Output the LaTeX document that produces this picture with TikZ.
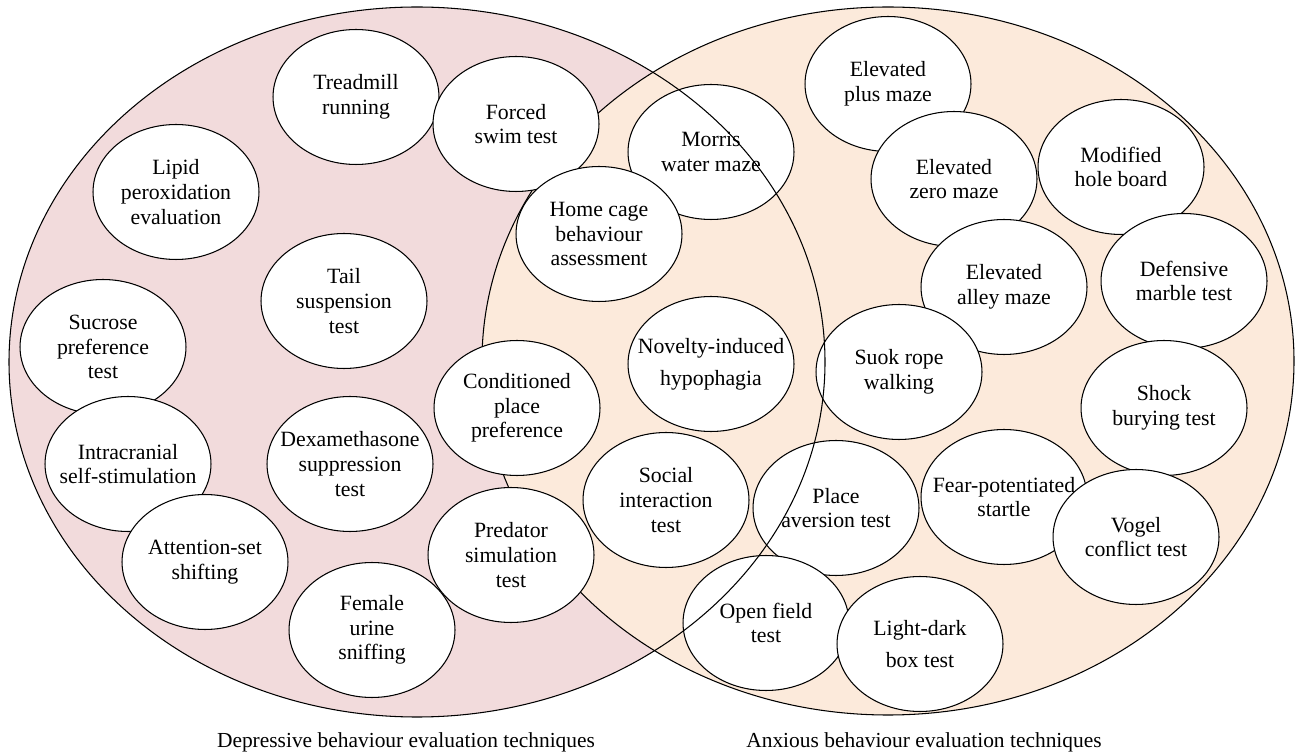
\documentclass[tikz,border=0pt]{standalone}
\usepackage{fontspec}
\setmainfont{Liberation Serif}
\usepackage{tikz}
\usetikzlibrary{shapes}
\definecolor{deprpink}{RGB}{242,219,220}
\definecolor{anxbeige}{RGB}{252,234,219}
\tikzset{
	technique/.style={draw, ellipse, fill=white, line width=0.6pt, minimum width=3.32cm, minimum height=2.7cm, inner xsep=-0.4cm, align=center, font=\fontsize{12.4}{14}\selectfont},
	caption/.style={font=\fontsize{12.2}{14}\selectfont}
}

\begin{document}
\begin{tikzpicture}[x=0.02cm, y=-0.02cm]
			\useasboundingbox (0,0) rectangle (1295,756);
			% the two sets
			\fill[deprpink] (417,362) ellipse [x radius=408, y radius=355];
			\draw[fill=anxbeige, line width=0.6pt] (888,361) ellipse [x radius=406, y radius=354];

			\node[technique] (treadmill) at (356,97) {Treadmill\\running};
			\node[technique] (forcedswim) at (516,124) {Forced\\swim test};
			\node[technique] (morris) at (711,152) {Morris\\water maze};
			\node[technique] (homecage) at (599,234) {Home cage\\behaviour\\assessment};
			\node[technique] (lipid) at (176,192) {Lipid\\peroxidation\\evaluation};
			\node[technique] (tail) at (344,301) {Tail\\suspension\\test};
			\node[technique] (sucrose) at (103,347) {Sucrose\\preference\\test};
			\node[technique] (intracranial) at (128,464) {Intracranial\\self-stimulation};
			\node[technique] (attention) at (205,562) {Attention-set\\shifting};
			\node[technique] (dexa) at (350,464) {Dexamethasone\\suppression\\test};
			\node[technique] (predator) at (511,555) {Predator\\simulation\\test};
			\node[technique] (female) at (372,630) {Female\\urine\\sniffing};
			\node[technique] (conditioned) at (517,408) {Conditioned\\place\\preference};
			\node[technique] (novelty) at (711,364) {Novelty-induced\\[4pt]hypophagia};
			\node[technique] (social) at (666,500) {Social\\interaction\\test};
			\node[technique] (placeav) at (836,508) {Place\\aversion test};
			\node[technique] (openfield) at (766,623) {Open field\\test};
			\node[technique] (lightdark) at (920,644) {Light-dark\\[4pt]box test};
			\node[technique] (plusmaze) at (888,84) {Elevated\\plus maze};
			\node[technique] (zeromaze) at (954,179) {Elevated\\zero maze};
			\node[technique] (alleymaze) at (1004,287) {Elevated\\alley maze};
			\node[technique] (suok) at (899,372) {Suok rope\\walking};
			\node[technique] (holeboard) at (1121,167) {Modified\\hole board};
			\node[technique] (marble) at (1184,281) {Defensive\\marble test};
			\node[technique] (shock) at (1164,408) {Shock\\burying test};
			\node[technique] (fear) at (1004,497) {Fear-potentiated\\startle};
			\node[technique] (vogel) at (1136,537) {Vogel\\conflict test};

			% outline of the left set lies over everything
			\draw[line width=0.6pt] (417,362) ellipse [x radius=408, y radius=355];

			\node[caption] (deprlabel) at (406,742) {Depressive behaviour evaluation techniques};
			\node[caption] (anxlabel) at (924,742) {Anxious behaviour evaluation techniques};
\end{tikzpicture}
\end{document}
